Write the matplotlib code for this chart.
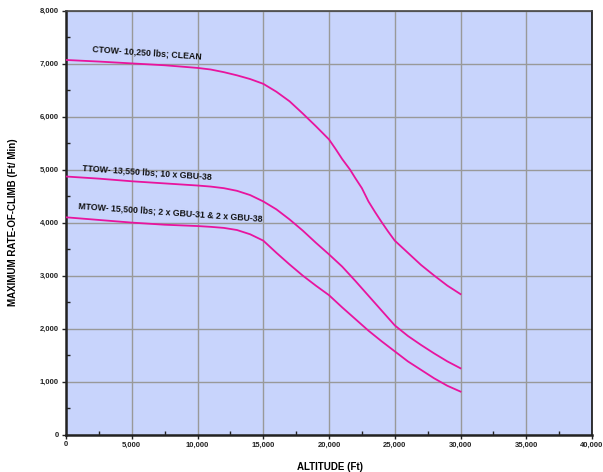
import matplotlib
matplotlib.use("Agg")
import matplotlib.pyplot as plt
from matplotlib.ticker import MultipleLocator, FuncFormatter

ctow_alt = [0, 2500, 5000, 7500, 10000, 11000, 12000, 13000, 14000, 15000, 16000, 17000, 18000, 19000,
            20000, 20500, 21000, 21600, 22000, 22500, 23000, 23500, 24000, 24500, 25000, 26000, 27000,
            28000, 29000, 30000]
ctow_roc = [7070, 7040, 7005, 6970, 6920, 6890, 6840, 6780, 6710, 6620, 6470, 6290, 6060, 5820,
            5570, 5390, 5200, 5000, 4840, 4650, 4400, 4200, 4010, 3830, 3660, 3430, 3200,
            3000, 2810, 2650]

ttow_alt = [0, 2500, 5000, 7500, 10000, 11000, 12000, 13000, 14000, 15000, 16000, 17000, 18000, 19000,
            20000, 21000, 22000, 23000, 24000, 25000, 26000, 27000, 28000, 29000, 30000]
ttow_roc = [4870, 4830, 4780, 4740, 4700, 4680, 4650, 4600, 4520, 4400, 4250, 4060, 3850, 3620,
            3400, 3170, 2900, 2620, 2340, 2060, 1860, 1690, 1530, 1380, 1250]

mtow_alt = [0, 2500, 5000, 7500, 10000, 11000, 12000, 13000, 14000, 15000, 16000, 17000, 18000, 19000,
            20000, 21000, 22000, 23000, 24000, 25000, 26000, 27000, 28000, 29000, 30000]
mtow_roc = [4100, 4050, 4000, 3960, 3935, 3920, 3900, 3860, 3780, 3660, 3430, 3210, 3000, 2810,
            2630, 2400, 2180, 1960, 1760, 1570, 1380, 1220, 1060, 920, 810]

labels = ["CTOW- 10,250 lbs; CLEAN",
          "TTOW- 13,550 lbs; 10 x GBU-38",
          "MTOW- 15,500 lbs; 2 x GBU-31 & 2 x GBU-38"]

plt.rcParams["font.family"] = ["Liberation Sans", "DejaVu Sans"]

W, H = 603, 472
fig = plt.figure(figsize=(W / 100, H / 100), dpi=100)
ax = fig.add_axes([66 / W, 1 - 434.5 / H, (592 - 66) / W, (434.5 - 10.7) / H])
ax.set_facecolor("#C8D4FC")

line_color = "#E8149E"
for a, r in [(ctow_alt, ctow_roc), (ttow_alt, ttow_roc), (mtow_alt, mtow_roc)]:
    ax.plot(a, r, color=line_color, lw=1.3, zorder=3, solid_joinstyle="round")

ax.set_xlim(0, 40000)
ax.set_ylim(0, 8000)
ax.xaxis.set_major_locator(MultipleLocator(5000))
ax.xaxis.set_minor_locator(MultipleLocator(2500))
ax.yaxis.set_major_locator(MultipleLocator(1000))
ax.yaxis.set_minor_locator(MultipleLocator(500))
fmt = FuncFormatter(lambda v, p: f"{int(v):,}")
ax.xaxis.set_major_formatter(fmt)
ax.yaxis.set_major_formatter(fmt)
ax.grid(True, which="major", color="#999999", lw=1.0, zorder=1)
ax.set_axisbelow(True)
ax.tick_params(which="major", direction="out", length=3, width=1, labelsize=5.5, pad=2, colors="#222222")
ax.tick_params(which="minor", direction="in", length=3, width=1, color="#222222")
for lab in ax.get_xticklabels() + ax.get_yticklabels():
    lab.set_fontweight("bold")

for side in ["left", "bottom"]:
    ax.spines[side].set_linewidth(1.8)
    ax.spines[side].set_color("#222222")
ax.spines["right"].set_linewidth(1.2)
ax.spines["right"].set_color("#111111")
ax.spines["top"].set_linewidth(1.2)
ax.spines["top"].set_color("#444444")

ax.set_xlabel("ALTITUDE (Ft)", fontsize=7, fontweight="bold")
ax.xaxis.set_label_coords((330 - 66) / (592 - 66), -0.065)
ax.set_ylabel("MAXIMUM RATE-OF-CLIMB (Ft/ Min)", fontsize=7, fontweight="bold")
ax.yaxis.set_label_coords(-0.092, 0.5)

tk = dict(fontsize=6.3, fontweight="bold", color="#111111", rotation=-4,
          rotation_mode="anchor", ha="left", va="baseline", zorder=4)
ax.text(2000, 7230, labels[0], **tk)
ax.text(1200, 4990, labels[1], **tk)
ax.text(900, 4260, labels[2], **tk)

fig.savefig("out.png", dpi=100)
